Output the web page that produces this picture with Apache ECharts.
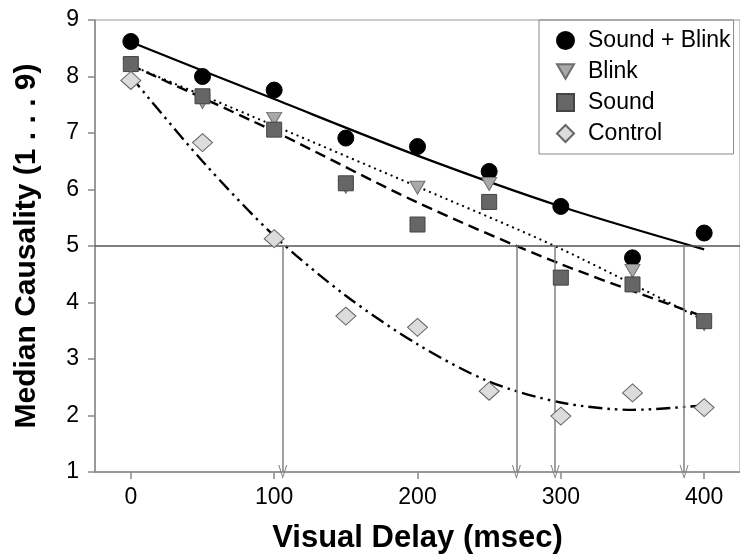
<!DOCTYPE html>
<html>
<head>
<meta charset="utf-8">
<script src="https://cdn.jsdelivr.net/npm/echarts@6/dist/echarts.min.js"></script>
<style>html,body{margin:0;padding:0;background:#fff}#c{width:740px;height:559px}</style>
</head>
<body>
<div id="c"></div>
<script>
// ---- data ----
const delays = [0, 50, 100, 150, 200, 250, 300, 350, 400];
const soundBlink = [8.62, 8.00, 7.76, 6.91, 6.76, 6.32, 5.70, 4.79, 5.23];
const blink      = [8.20, 7.55, 7.25, 6.05, 6.03, 6.10, 4.45, 4.56, 3.62];
const sound      = [8.22, 7.65, 7.06, 6.11, 5.38, 5.78, 4.44, 4.32, 3.67];
const control    = [7.93, 6.83, 5.13, 3.76, 3.56, 2.43, 1.99, 2.40, 2.14];

const trendX = [0, 100, 200, 300, 400];
const trendSoundBlink = [8.61, 7.60, 6.60, 5.70, 4.94];
const trendBlink      = [8.20, 7.13, 6.05, 4.95, 3.68];
const trendSound      = [8.20, 7.03, 5.77, 4.68, 3.75];
const trendControlX = [0, 50, 100, 150, 200, 250, 300, 350, 400];
const trendControl  = [8.00, 6.50, 5.18, 4.12, 3.26, 2.60, 2.23, 2.10, 2.18];

const threshold = 5;
const crossX = [106, 269, 296, 386];

const xTicks = [0, 100, 200, 300, 400];
const seriesNames = ['Sound + Blink', 'Blink', 'Sound', 'Control'];

// ---- helpers ----
const pairs = (xs, ys) => xs.map((x, i) => [x, ys[i]]);
const FONT = "'Liberation Sans', Arial, sans-serif";

const chart = echarts.init(document.getElementById('c'), null, {renderer: 'canvas'});

const trendLine = (xs, ys, type, width, smooth) => ({
  type: 'line', data: pairs(xs, ys), showSymbol: false, symbol: 'none',
  smooth: smooth, silent: true, z: 1,
  lineStyle: {color: '#000', width: width, type: type}
});

const arrowPath = 'path://M5,0 L10,14 L8.8,14 L5,3 L1.2,14 L0,14 Z';
const downTriangle = 'path://M0,0 L12,0 L6,10.4 Z';

chart.setOption({
  animation: false,
  backgroundColor: '#fff',
  grid: {left: 95, right: 0, top: 20, bottom: 86, show: true, borderColor: '#999', borderWidth: 1},
  legend: {
    data: seriesNames,
    orient: 'vertical',
    left: 539, top: 20,
    padding: [9, 3, 9, 17],
    itemWidth: 17, itemHeight: 17, itemGap: 8,
    borderColor: '#888', borderWidth: 1,
    textStyle: {fontFamily: FONT, fontSize: 23, color: '#000', lineHeight: 22, padding: [0, 0, 0, 9]},
    selectedMode: false
  },
  xAxis: {
    type: 'value', min: -25, max: 425,
    name: 'Visual Delay (msec)', nameLocation: 'middle', nameGap: 51,
    nameTextStyle: {fontFamily: FONT, fontSize: 31, fontWeight: 'bold', color: '#000'},
    axisLine: {show: true, onZero: false, lineStyle: {color: '#888', width: 1.5}},
    axisTick: {show: true, length: 7, customValues: xTicks, lineStyle: {color: '#888', width: 1.5}},
    axisLabel: {customValues: xTicks, margin: 14, fontFamily: FONT, fontSize: 23, color: '#000'},
    splitLine: {show: false}
  },
  yAxis: {
    type: 'value', min: 1, max: 9, interval: 1,
    name: 'Median Causality (1 . . . 9)', nameLocation: 'middle', nameGap: 53,
    nameTextStyle: {fontFamily: FONT, fontSize: 30, fontWeight: 'bold', color: '#000'},
    axisLine: {show: true, onZero: false, lineStyle: {color: '#888', width: 1.5}},
    axisTick: {show: true, length: 7, lineStyle: {color: '#888', width: 1.5}},
    axisLabel: {margin: 16, fontFamily: FONT, fontSize: 23, color: '#000'},
    splitLine: {show: false}
  },
  series: [
    trendLine(trendX, trendSoundBlink, 'solid', 2.2, 0.3),
    trendLine(trendX, trendBlink, [2, 4], 2, 0.3),
    trendLine(trendX, trendSound, [11, 6], 2.4, 0.3),
    trendLine(trendControlX, trendControl, [14, 5, 2.5, 5, 2.5, 5], 2.4, 0.3),
    {
      type: 'line', data: [], silent: true, z: 2,
      markLine: {
        silent: true, animation: false,
        label: {show: false},
        symbol: ['none', 'none'],
        lineStyle: {color: '#555', width: 1.5, type: 'solid'},
        data: [{yAxis: threshold}]
      }
    },
    {
      type: 'line', data: [], silent: true, z: 2,
      markLine: {
        silent: true, animation: false,
        label: {show: false},
        symbol: ['none', arrowPath],
        symbolSize: [9, 14],
        lineStyle: {color: '#808080', width: 1.5, type: 'solid'},
        itemStyle: {color: '#808080'},
        data: crossX.map(x => [{coord: [x, threshold]}, {coord: [x, 1]}])
      }
    },
    {
      name: 'Sound + Blink', type: 'scatter', data: pairs(delays, soundBlink), z: 3,
      symbol: 'circle', symbolSize: 16,
      itemStyle: {color: '#000', borderColor: '#000', borderWidth: 1, opacity: 1}
    },
    {
      name: 'Blink', type: 'scatter', data: pairs(delays, blink), z: 4,
      symbol: downTriangle, symbolSize: [15, 13],
      itemStyle: {color: '#a9a9a9', borderColor: '#6e6e6e', borderWidth: 1, opacity: 1}
    },
    {
      name: 'Sound', type: 'scatter', data: pairs(delays, sound), z: 5,
      symbol: 'rect', symbolSize: 15,
      itemStyle: {color: '#666', borderColor: '#444', borderWidth: 1, opacity: 1}
    },
    {
      name: 'Control', type: 'scatter', data: pairs(delays, control), z: 6,
      symbol: 'diamond', symbolSize: [20, 18],
      itemStyle: {color: '#dcdcdc', borderColor: '#666', borderWidth: 1, opacity: 1}
    }
  ]
});
</script>
</body>
</html>
